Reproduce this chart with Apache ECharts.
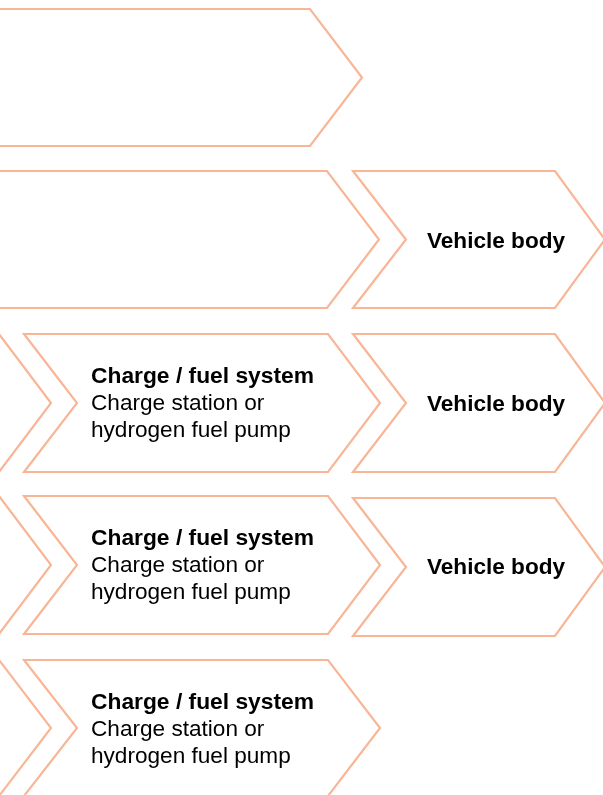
<!DOCTYPE html>
<html>
<head>
<meta charset="utf-8">
<script src="https://cdn.jsdelivr.net/npm/echarts@6/dist/echarts.min.js"></script>
<style>
html,body{margin:0;padding:0;background:#fff;}
#chart{width:603px;height:795px;}
</style>
</head>
<body>
<div id="chart"></div>
<script>
// Chevron stages: [top, bottom, leftX, notchX, shoulderX, tipX] in diagram units
const chevrons = [
  [9, 146, -400, -348, 310, 362],
  [171, 308, -400, -348, 327, 379],
  [171, 308, 353, 406, 555, 605],
  [334, 472, -300, -248, -1, 51],
  [334, 472, 24, 77, 328, 380],
  [334, 472, 353, 406, 555, 605],
  [496, 634, -300, -248, -1, 51],
  [496, 634, 24, 77, 328, 380],
  [498, 636, 353, 406, 555, 605],
  [660, 796, -300, -248, -1, 51],
  [660, 796, 24, 77, 328, 380]
];
// Single-line bold labels: [x, y, text]
const titleLabels = [
  [496, 242, 'Vehicle body'],
  [496, 405, 'Vehicle body'],
  [496, 568, 'Vehicle body']
];
// Multi-line labels: [x, yCenter, title, line1, line2]
const detailLabels = [
  [91, 404, 'Charge / fuel system', 'Charge station or', 'hydrogen fuel pump'],
  [91, 566, 'Charge / fuel system', 'Charge station or', 'hydrogen fuel pump'],
  [91, 730, 'Charge / fuel system', 'Charge station or', 'hydrogen fuel pump']
];

const STROKE = '#F9B697';
const FONT = '"Liberation Sans", Arial, Helvetica, sans-serif';

const chart = echarts.init(document.getElementById('chart'));
chart.setOption({
  animation: false,
  grid: {left: 0, right: 0, top: 0, bottom: 0},
  xAxis: {type: 'value', min: 0, max: 603, show: false},
  yAxis: {type: 'value', min: 0, max: 795, inverse: true, show: false},
  series: [
    {
      type: 'custom',
      clip: true,
      data: chevrons,
      renderItem: function (params, api) {
        const top = api.value(0), bot = api.value(1);
        const l = api.value(2), n = api.value(3), s = api.value(4), t = api.value(5);
        const mid = (top + bot) / 2;
        const pts = [[l, top], [s, top], [t, mid], [s, bot], [l, bot], [n, mid]].map(p => api.coord(p));
        return {
          type: 'polygon',
          shape: {points: pts},
          style: {fill: 'none', stroke: STROKE, lineWidth: 2.2}
        };
      }
    },
    {
      type: 'custom',
      data: titleLabels,
      renderItem: function (params, api) {
        const p = api.coord([api.value(0), api.value(1)]);
        return {
          type: 'text',
          style: {
            x: p[0], y: p[1], text: titleLabels[params.dataIndex][2],
            fill: '#000', font: 'bold 22.6px ' + FONT,
            align: 'center', verticalAlign: 'middle'
          }
        };
      }
    },
    {
      type: 'custom',
      data: detailLabels,
      renderItem: function (params, api) {
        const d = detailLabels[params.dataIndex];
        const p = api.coord([api.value(0), api.value(1)]);
        const lh = 27;
        return {
          type: 'group',
          children: [
            {type: 'text', style: {x: p[0], y: p[1] - lh, text: d[2], fill: '#000', font: 'bold 22.8px ' + FONT, align: 'left', verticalAlign: 'middle'}},
            {type: 'text', style: {x: p[0], y: p[1], text: d[3], fill: '#000', font: '22.6px ' + FONT, align: 'left', verticalAlign: 'middle'}},
            {type: 'text', style: {x: p[0], y: p[1] + lh, text: d[4], fill: '#000', font: '22.6px ' + FONT, align: 'left', verticalAlign: 'middle'}}
          ]
        };
      }
    }
  ]
});
</script>
</body>
</html>
